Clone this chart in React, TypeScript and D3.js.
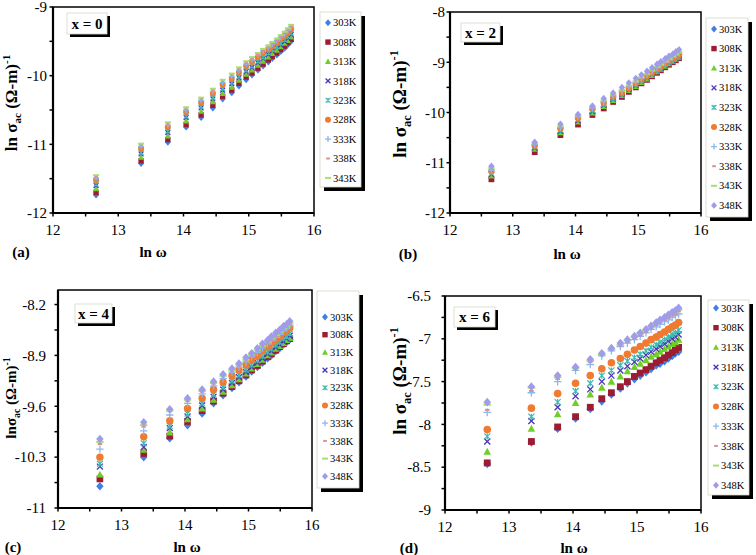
import React from "react";
import * as d3 from "d3";

// ln(omega) values shared by all four panels
const lnW = [12.66, 13.35, 13.76, 14.04, 14.27, 14.45, 14.6, 14.74, 14.85, 14.96, 15.05, 15.14, 15.22, 15.3, 15.36, 15.43, 15.49, 15.55, 15.6, 15.65];

const tempsA = ["303K", "308K", "313K", "318K", "323K", "328K", "333K", "338K", "343K"];
const tempsBCD = ["303K", "308K", "313K", "318K", "323K", "328K", "333K", "338K", "343K", "348K"];

const xTicks = [12, 13, 14, 15, 16];
const yTicksA = [-12, -11, -10, -9];
const yTicksB = [-12, -11, -10, -9, -8];
const yTicksC = [-11, -10.3, -9.6, -8.9, -8.2];
const yTicksD = [-9, -8.5, -8, -7.5, -7, -6.5];

// x = 0
const seriesA = [
  [-11.74, -11.28, -10.97, -10.75, -10.61, -10.47, -10.34, -10.25, -10.15, -10.06, -9.99, -9.92, -9.86, -9.8, -9.75, -9.7, -9.65, -9.6, -9.55, -9.5],
  [-11.7, -11.24, -10.93, -10.71, -10.57, -10.43, -10.3, -10.21, -10.11, -10.02, -9.96, -9.89, -9.83, -9.77, -9.72, -9.67, -9.62, -9.57, -9.52, -9.47],
  [-11.65, -11.19, -10.88, -10.66, -10.52, -10.38, -10.26, -10.17, -10.07, -9.98, -9.92, -9.85, -9.79, -9.73, -9.68, -9.63, -9.58, -9.53, -9.49, -9.44],
  [-11.6, -11.14, -10.83, -10.61, -10.47, -10.34, -10.21, -10.12, -10.03, -9.94, -9.88, -9.81, -9.75, -9.69, -9.64, -9.59, -9.55, -9.5, -9.45, -9.4],
  [-11.58, -11.12, -10.81, -10.59, -10.45, -10.32, -10.19, -10.1, -10.01, -9.92, -9.86, -9.79, -9.73, -9.67, -9.62, -9.58, -9.53, -9.48, -9.43, -9.38],
  [-11.52, -11.06, -10.75, -10.53, -10.39, -10.26, -10.13, -10.04, -9.95, -9.86, -9.8, -9.73, -9.67, -9.62, -9.57, -9.52, -9.47, -9.42, -9.37, -9.32],
  [-11.49, -11.03, -10.72, -10.5, -10.36, -10.23, -10.1, -10.01, -9.92, -9.83, -9.77, -9.7, -9.64, -9.59, -9.54, -9.49, -9.44, -9.39, -9.34, -9.29],
  [-11.47, -11.01, -10.7, -10.48, -10.34, -10.21, -10.08, -9.99, -9.9, -9.81, -9.75, -9.69, -9.63, -9.58, -9.53, -9.48, -9.43, -9.38, -9.33, -9.28],
  [-11.45, -10.99, -10.68, -10.46, -10.32, -10.19, -10.06, -9.97, -9.88, -9.79, -9.73, -9.67, -9.61, -9.56, -9.51, -9.46, -9.41, -9.36, -9.31, -9.26],
];

// x = 2
const seriesB = [
  [-11.3, -10.76, -10.42, -10.21, -10.02, -9.89, -9.76, -9.66, -9.56, -9.47, -9.4, -9.33, -9.26, -9.19, -9.14, -9.08, -9.03, -8.98, -8.94, -8.9],
  [-11.33, -10.79, -10.45, -10.24, -10.05, -9.92, -9.79, -9.69, -9.59, -9.5, -9.42, -9.35, -9.28, -9.21, -9.16, -9.1, -9.05, -9.0, -8.96, -8.92],
  [-11.26, -10.73, -10.4, -10.19, -10.01, -9.88, -9.76, -9.66, -9.56, -9.48, -9.4, -9.33, -9.26, -9.19, -9.14, -9.08, -9.03, -8.98, -8.94, -8.9],
  [-11.23, -10.7, -10.37, -10.16, -9.98, -9.85, -9.73, -9.64, -9.54, -9.46, -9.38, -9.31, -9.24, -9.17, -9.12, -9.06, -9.01, -8.96, -8.92, -8.88],
  [-11.21, -10.68, -10.35, -10.14, -9.96, -9.84, -9.72, -9.63, -9.53, -9.45, -9.37, -9.3, -9.23, -9.16, -9.11, -9.05, -9.0, -8.95, -8.91, -8.87],
  [-11.17, -10.66, -10.32, -10.11, -9.93, -9.81, -9.69, -9.6, -9.51, -9.42, -9.34, -9.27, -9.2, -9.13, -9.08, -9.02, -8.97, -8.92, -8.88, -8.84],
  [-11.15, -10.64, -10.3, -10.09, -9.91, -9.79, -9.67, -9.58, -9.49, -9.4, -9.32, -9.25, -9.18, -9.11, -9.06, -9.0, -8.95, -8.9, -8.86, -8.82],
  [-11.13, -10.62, -10.28, -10.07, -9.89, -9.77, -9.65, -9.56, -9.47, -9.39, -9.31, -9.24, -9.17, -9.1, -9.05, -8.99, -8.94, -8.89, -8.85, -8.81],
  [-11.11, -10.61, -10.27, -10.06, -9.88, -9.76, -9.64, -9.55, -9.46, -9.38, -9.3, -9.23, -9.16, -9.09, -9.04, -8.98, -8.93, -8.88, -8.84, -8.8],
  [-11.07, -10.59, -10.23, -10.04, -9.87, -9.72, -9.61, -9.5, -9.41, -9.32, -9.25, -9.18, -9.11, -9.04, -8.99, -8.93, -8.88, -8.84, -8.79, -8.75],
];

// x = 4
const seriesC = [
  [-10.7, -10.3, -10.04, -9.86, -9.7, -9.56, -9.45, -9.35, -9.27, -9.19, -9.12, -9.06, -9.0, -8.94, -8.9, -8.84, -8.8, -8.75, -8.72, -8.68],
  [-10.6, -10.25, -10.01, -9.81, -9.66, -9.53, -9.42, -9.33, -9.25, -9.17, -9.1, -9.04, -8.98, -8.92, -8.88, -8.83, -8.78, -8.74, -8.7, -8.67],
  [-10.54, -10.2, -9.96, -9.78, -9.63, -9.51, -9.4, -9.31, -9.23, -9.15, -9.08, -9.02, -8.96, -8.9, -8.86, -8.81, -8.77, -8.73, -8.69, -8.66],
  [-10.43, -10.16, -9.9, -9.74, -9.59, -9.47, -9.37, -9.28, -9.2, -9.13, -9.06, -9.0, -8.94, -8.88, -8.84, -8.79, -8.75, -8.71, -8.67, -8.63],
  [-10.39, -10.11, -9.87, -9.7, -9.56, -9.44, -9.34, -9.25, -9.17, -9.1, -9.03, -8.97, -8.91, -8.85, -8.81, -8.76, -8.72, -8.67, -8.64, -8.6],
  [-10.3, -10.02, -9.8, -9.63, -9.49, -9.37, -9.27, -9.18, -9.1, -9.03, -8.96, -8.9, -8.84, -8.78, -8.73, -8.68, -8.64, -8.59, -8.56, -8.52],
  [-10.19, -9.94, -9.72, -9.56, -9.43, -9.32, -9.22, -9.13, -9.06, -8.99, -8.92, -8.86, -8.8, -8.74, -8.7, -8.65, -8.61, -8.56, -8.53, -8.49],
  [-10.12, -9.88, -9.67, -9.53, -9.4, -9.29, -9.19, -9.11, -9.04, -8.97, -8.9, -8.84, -8.78, -8.72, -8.68, -8.63, -8.59, -8.54, -8.51, -8.47],
  [-10.09, -9.86, -9.66, -9.51, -9.39, -9.28, -9.18, -9.1, -9.03, -8.96, -8.89, -8.83, -8.77, -8.71, -8.67, -8.62, -8.58, -8.53, -8.5, -8.46],
  [-10.05, -9.82, -9.64, -9.49, -9.37, -9.26, -9.16, -9.08, -9.01, -8.93, -8.87, -8.8, -8.74, -8.69, -8.64, -8.59, -8.55, -8.5, -8.47, -8.43],
];

// x = 6
const seriesD = [
  [-8.46, -8.21, -8.05, -7.93, -7.82, -7.73, -7.65, -7.58, -7.52, -7.47, -7.43, -7.39, -7.35, -7.31, -7.29, -7.26, -7.23, -7.2, -7.17, -7.15],
  [-8.45, -8.2, -8.03, -7.91, -7.8, -7.7, -7.63, -7.56, -7.5, -7.44, -7.4, -7.36, -7.32, -7.28, -7.25, -7.22, -7.19, -7.16, -7.13, -7.1],
  [-8.32, -8.05, -7.88, -7.75, -7.65, -7.57, -7.5, -7.44, -7.38, -7.33, -7.29, -7.25, -7.21, -7.18, -7.15, -7.12, -7.09, -7.06, -7.04, -7.01],
  [-8.2, -7.96, -7.8, -7.67, -7.59, -7.5, -7.43, -7.37, -7.32, -7.27, -7.23, -7.19, -7.15, -7.12, -7.09, -7.06, -7.03, -7.0, -6.98, -6.95],
  [-8.14, -7.91, -7.74, -7.61, -7.52, -7.43, -7.37, -7.31, -7.26, -7.22, -7.18, -7.14, -7.1, -7.07, -7.04, -7.01, -6.98, -6.95, -6.93, -6.9],
  [-8.06, -7.81, -7.64, -7.52, -7.43, -7.35, -7.28, -7.23, -7.18, -7.13, -7.09, -7.05, -7.01, -6.98, -6.95, -6.92, -6.89, -6.86, -6.84, -6.81],
  [-7.86, -7.63, -7.5, -7.37, -7.3, -7.2, -7.14, -7.09, -7.05, -7.01, -6.97, -6.93, -6.89, -6.86, -6.83, -6.8, -6.78, -6.75, -6.73, -6.71],
  [-7.83, -7.61, -7.47, -7.35, -7.27, -7.19, -7.13, -7.08, -7.04, -7.0, -6.96, -6.92, -6.88, -6.84, -6.81, -6.78, -6.76, -6.73, -6.71, -6.68],
  [-7.77, -7.57, -7.45, -7.34, -7.26, -7.18, -7.12, -7.07, -7.02, -6.98, -6.94, -6.9, -6.86, -6.82, -6.79, -6.76, -6.73, -6.7, -6.68, -6.66],
  [-7.74, -7.56, -7.43, -7.33, -7.24, -7.17, -7.11, -7.05, -7.01, -6.97, -6.93, -6.89, -6.85, -6.81, -6.78, -6.75, -6.72, -6.69, -6.67, -6.64],
];

const SERIF = "'Liberation Serif', 'Times New Roman', Times, serif";

const markerStyles = [
  { shape: "diamond", color: "#3f7fe6" },
  { shape: "square", color: "#9c1c31" },
  { shape: "triangle", color: "#6fcf2a" },
  { shape: "x", color: "#4d34b8" },
  { shape: "star", color: "#3cbcb4" },
  { shape: "circle", color: "#ef7a30" },
  { shape: "plus", color: "#8ab8f0" },
  { shape: "dash", color: "#d98b99" },
  { shape: "longdash", color: "#a6df6e" },
  { shape: "diamond", color: "#9f9cea" },
];

const panels = [
  {
    id: "a", series: seriesA, temps: tempsA, yTicks: yTicksA, yDomain: [-12, -9], yMinor: 0.5, tag: "x = 0",
    left: 53, right: 314, top: 7, bottom: 213, r: 3,
    tickGap: 6, xLabelY: 235, titleY: 257, titleX: 153, panelX: 21,
    yl: { x: 17, y: 103, size: 17, prefix: "ln σ" },
    box: { x: 67, y: 13, w: 40, h: 21 },
    legend: { x: 320, y: 12, w: 41, h: 175, first: 10.7, step: 19.4 },
  },
  {
    id: "b", series: seriesB, temps: tempsBCD, yTicks: yTicksB, yDomain: [-12, -8], yMinor: 0.5, tag: "x = 2",
    left: 450, right: 701, top: 12, bottom: 213, r: 3.2,
    tickGap: 5, xLabelY: 235, titleY: 259, titleX: 567, panelX: 408,
    yl: { x: 406, y: 104, size: 19, prefix: "ln σ" },
    box: { x: 461, y: 23, w: 39, h: 19 },
    legend: { x: 706, y: 18, w: 42, h: 199, first: 11, step: 19.6 },
  },
  {
    id: "c", series: seriesC, temps: tempsBCD, yTicks: yTicksC, yDomain: [-11, -8], yMinor: 0.35, tag: "x = 4",
    left: 58, right: 312, top: 290, bottom: 508, r: 3.7,
    tickGap: 12, xLabelY: 530, titleY: 552, titleX: 187, panelX: 13,
    yl: { x: 16, y: 398, size: 15, prefix: "lnσ" },
    box: { x: 75, y: 304, w: 37, h: 19 },
    legend: { x: 317, y: 291, w: 42, h: 197, first: 26, step: 17.7 },
  },
  {
    id: "d", series: seriesD, temps: tempsBCD, yTicks: yTicksD, yDomain: [-9, -6.5], yMinor: 0.25, tag: "x = 6",
    left: 445, right: 701, top: 296, bottom: 510, r: 3.8,
    tickGap: 14, xLabelY: 532, titleY: 553, titleX: 574, panelX: 409,
    yl: { x: 406, y: 381, size: 19, prefix: "ln σ" },
    box: { x: 454, y: 307, w: 41, h: 20 },
    legend: { x: 708, y: 300, w: 41, h: 195, first: 8, step: 19.7 },
  },
];

function Marker({ shape, cx, cy, r, color }: any) {
  switch (shape) {
    case "diamond":
      return <path d={`M${cx},${cy - r * 1.15}L${cx + r},${cy}L${cx},${cy + r * 1.15}L${cx - r},${cy}Z`} fill={color} />;
    case "square":
      return <rect x={cx - r * 0.9} y={cy - r * 0.9} width={r * 1.8} height={r * 1.8} fill={color} />;
    case "triangle":
      return <path d={`M${cx},${cy - r * 1.05}L${cx + r},${cy + r * 0.8}L${cx - r},${cy + r * 0.8}Z`} fill={color} />;
    case "x": {
      const k = r * 0.8;
      return <path d={`M${cx - k},${cy - k}L${cx + k},${cy + k}M${cx + k},${cy - k}L${cx - k},${cy + k}`} stroke={color} strokeWidth={1.3} />;
    }
    case "star": {
      const k = r * 0.8;
      return <path d={`M${cx - k},${cy - k}L${cx + k},${cy + k}M${cx + k},${cy - k}L${cx - k},${cy + k}M${cx},${cy - k}L${cx},${cy + k}`} stroke={color} strokeWidth={1.2} />;
    }
    case "circle":
      return <circle cx={cx} cy={cy} r={r} fill={color} />;
    case "plus":
      return <path d={`M${cx - r},${cy}L${cx + r},${cy}M${cx},${cy - r}L${cx},${cy + r}`} stroke={color} strokeWidth={1.3} />;
    case "dash":
      return <path d={`M${cx - r * 0.6},${cy}L${cx + r * 0.6},${cy}`} stroke={color} strokeWidth={2} />;
    case "longdash":
      return <path d={`M${cx - r},${cy}L${cx + r},${cy}`} stroke={color} strokeWidth={2} />;
    default:
      return null;
  }
}

function Panel({ p }: any) {
  const x = d3.scaleLinear().domain([12, 16]).range([p.left, p.right]);
  const y = d3.scaleLinear().domain(p.yDomain).range([p.bottom, p.top]);
  const xMinor = d3.range(12, 16.001, 0.5);
  const yMinor = d3.range(p.yDomain[0], p.yDomain[1] + 1e-6, p.yMinor);
  const yl = p.yl;
  const sub = yl.size * 0.65;

  return (
    <g>
      {/* data, later temperatures painted on top */}
      {p.series.map((vals: number[], si: number) => (
        <g key={si}>
          {vals.map((v, i) => (
            <Marker key={i} shape={markerStyles[si].shape} color={markerStyles[si].color} cx={x(lnW[i])} cy={y(v)} r={p.r} />
          ))}
        </g>
      ))}

      {/* frame */}
      <rect x={p.left} y={p.top} width={p.right - p.left} height={p.bottom - p.top} fill="none" stroke="#000" strokeWidth={1.5} />
      <line x1={p.left} x2={p.right} y1={p.bottom} y2={p.bottom} stroke="#000" strokeWidth={2.2} />
      <line x1={p.left} x2={p.left} y1={p.top} y2={p.bottom} stroke="#000" strokeWidth={2.2} />

      {/* ticks */}
      {xMinor.map((t) => (
        <line key={"xt" + t} x1={x(t)} x2={x(t)} y1={p.bottom} y2={p.bottom + 3.5} stroke="#000" strokeWidth={1.5} />
      ))}
      {yMinor.map((t) => (
        <line key={"yt" + t} x1={p.left - 3.5} x2={p.left} y1={y(t)} y2={y(t)} stroke="#000" strokeWidth={1.5} />
      ))}
      {xTicks.map((t) => (
        <text key={"xl" + t} x={x(t)} y={p.xLabelY} textAnchor="middle" fontFamily={SERIF} fontSize={15}>{t}</text>
      ))}
      {p.yTicks.map((t: number) => (
        <text key={"yl" + t} x={p.left - p.tickGap} y={y(t)} dy="0.35em" textAnchor="end" fontFamily={SERIF} fontSize={15}>{String(t)}</text>
      ))}

      {/* titles */}
      <text x={p.titleX} y={p.titleY} textAnchor="middle" fontFamily={SERIF} fontSize={15} fontWeight="bold">ln ω</text>
      <text x={p.panelX} y={p.titleY} textAnchor="middle" fontFamily={SERIF} fontSize={15} fontWeight="bold">({p.id})</text>
      <text
        transform={`translate(${yl.x},${yl.y}) rotate(-90)`}
        textAnchor="middle"
        fontFamily={SERIF}
        fontSize={yl.size}
        fontWeight="bold"
      >
        {yl.prefix}
        <tspan fontSize={sub} dy={yl.size * 0.25}>ac</tspan>
        <tspan dy={-yl.size * 0.25}> (Ω-m)</tspan>
        <tspan fontSize={sub} dy={-yl.size * 0.4}>-1</tspan>
      </text>

      {/* composition tag */}
      <rect x={p.box.x + 3} y={p.box.y + 3} width={p.box.w} height={p.box.h} fill="#000" />
      <rect x={p.box.x} y={p.box.y} width={p.box.w} height={p.box.h} fill="#fff" stroke="#d8d8c8" strokeWidth={0.8} />
      <text x={p.box.x + p.box.w / 2} y={p.box.y + p.box.h / 2} dy="0.35em" textAnchor="middle" fontFamily={SERIF} fontSize={15} fontWeight="bold">{p.tag}</text>

      {/* legend */}
      <rect x={p.legend.x + 4} y={p.legend.y + 4} width={p.legend.w} height={p.legend.h} fill="#000" />
      <rect x={p.legend.x} y={p.legend.y} width={p.legend.w} height={p.legend.h} fill="#fff" stroke="#d8d8c8" strokeWidth={0.8} />
      {p.temps.map((t: string, i: number) => {
        const cy = p.legend.y + p.legend.first + i * p.legend.step;
        return (
          <g key={t}>
            <Marker shape={markerStyles[i].shape} color={markerStyles[i].color} cx={p.legend.x + 8} cy={cy} r={3} />
            <text x={p.legend.x + 13} y={cy} dy="0.35em" fontFamily={SERIF} fontSize={10.5}>{t}</text>
          </g>
        );
      })}
    </g>
  );
}

export default function App() {
  return (
    <svg width={756} height={555} style={{ position: "absolute", left: 0, top: 0, background: "#fff" }}>
      {panels.map((p) => (
        <Panel key={p.id} p={p} />
      ))}
    </svg>
  );
}
